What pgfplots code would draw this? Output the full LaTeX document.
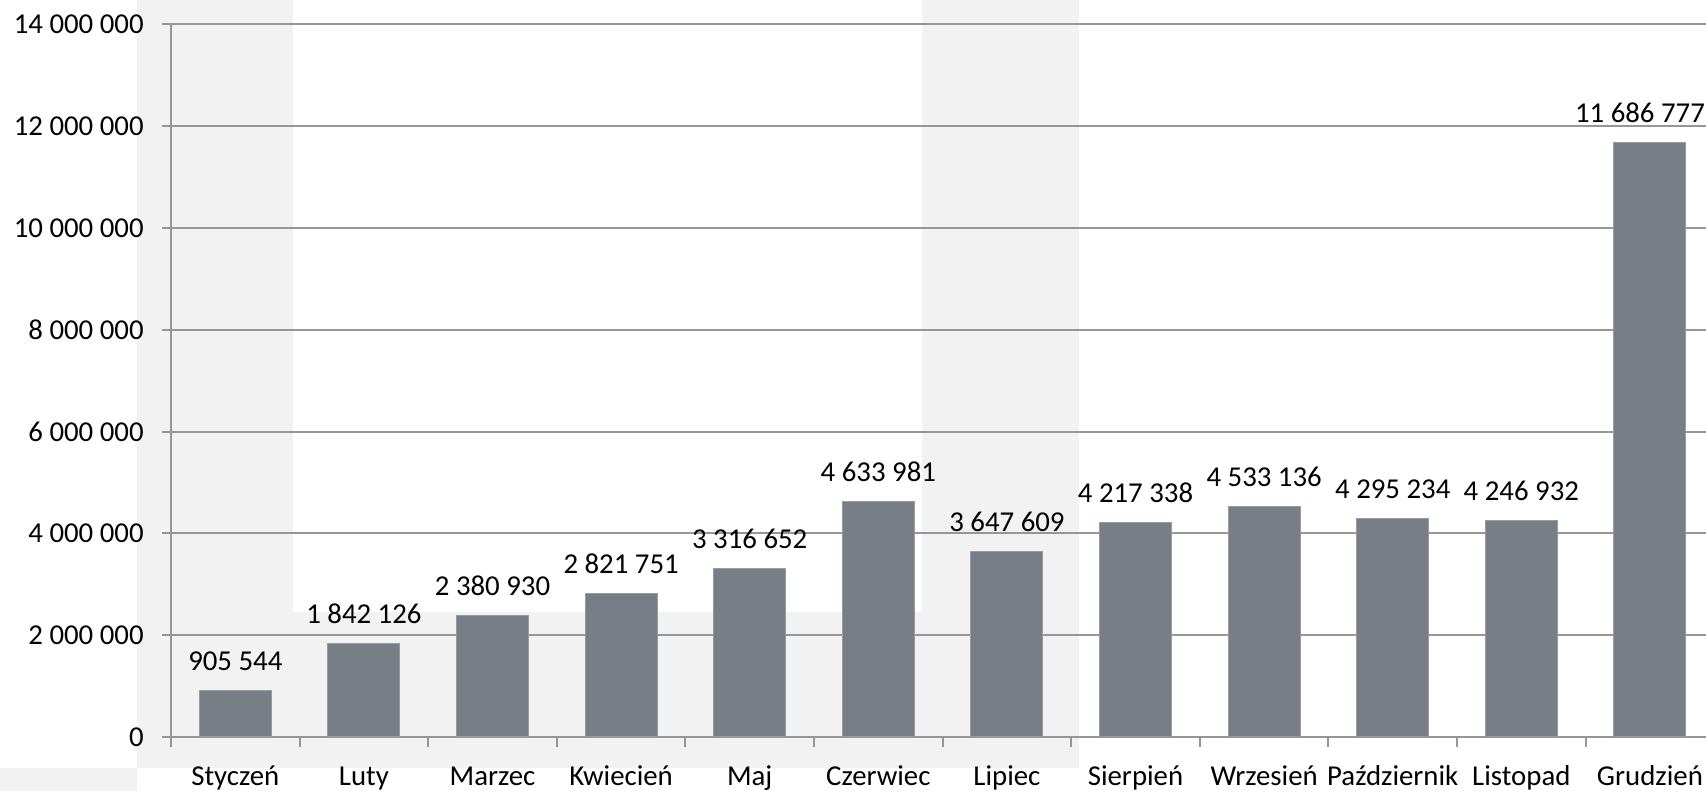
\documentclass[border=0pt]{standalone}
\usepackage{pgfplots}
\pgfplotsset{compat=1.18}
\usepackage{fontspec}
\setmainfont{Carlito}
\definecolor{bargray}{RGB}{120,126,133}
\definecolor{baredge}{RGB}{150,155,160}
\definecolor{bggray}{RGB}{242,242,242}
\definecolor{gridgray}{RGB}{150,150,150}
\begin{document}
\fontsize{14.4}{17}\selectfont
\begin{tikzpicture}[x=1pt,y=1pt]
\path[use as bounding box] (0,0) rectangle (853,395.5);
\fill[bggray] (68.5,11.5) rectangle (146.5,395.5);
\fill[bggray] (68.5,11.5) rectangle (539.5,89.5);
\fill[bggray] (461,11.5) rectangle (539.5,395.5);
\fill[bggray] (0,0) rectangle (68.5,11.5);
\begin{axis}[
  at={(85.5pt,27pt)}, anchor=south west,
  scale only axis, width=767.5pt, height=356.35pt,
  xmin=-0.5, xmax=11.436, ymin=0, ymax=14000000,
  axis x line=bottom, axis y line=left,
  axis line style={draw=gridgray, line width=1pt, -},
  ymajorgrids, grid style={draw=gridgray, line width=1pt},
  ytick={0,2000000,4000000,6000000,8000000,10000000,12000000,14000000},
  yticklabels={0,2 000 000,4 000 000,6 000 000,8 000 000,10 000 000,12 000 000,14 000 000},
  scaled y ticks=false,
  xtick={0,1,2,3,4,5,6,7,8,9,10,11},
  xticklabels={Styczeń,Luty,Marzec,Kwiecień,Maj,Czerwiec,Lipiec,Sierpień,Wrzesień,Październik,Listopad,Grudzień},
  minor xtick={-0.5,0.5,1.5,2.5,3.5,4.5,5.5,6.5,7.5,8.5,9.5,10.5},
  major x tick style={draw=none},
  minor x tick style={draw=gridgray, line width=1pt},
  y tick style={draw=gridgray, line width=1pt},
  tick align=outside, major tick length=4.5pt, minor tick length=5pt,
  xticklabel style={anchor=base, yshift=-20pt, inner sep=0pt, font=\fontsize{14.4}{17}\selectfont},
  yticklabel style={anchor=east, inner sep=0pt, xshift=-9pt, font=\fontsize{14.4}{17}\selectfont},
  clip=false,
]
\addplot[ybar, bar width=0.56, fill=bargray, draw=baredge, line width=0.5pt,
  point meta=explicit symbolic,
  nodes near coords={\pgfplotspointmeta},
  every node near coord/.append style={anchor=base, inner sep=0pt, yshift=10pt, text=black, font=\fontsize{14.4}{17}\selectfont},
  coordinate style/.condition={\coordindex==11}{xshift=-5pt}]
coordinates {
(0,905544) [905 544]
(1,1842126) [1 842 126]
(2,2380930) [2 380 930]
(3,2821751) [2 821 751]
(4,3316652) [3 316 652]
(5,4633981) [4 633 981]
(6,3647609) [3 647 609]
(7,4217338) [4 217 338]
(8,4533136) [4 533 136]
(9,4295234) [4 295 234]
(10,4246932) [4 246 932]
(11,11686777) [11 686 777]
};
\end{axis}
\end{tikzpicture}
\end{document}
